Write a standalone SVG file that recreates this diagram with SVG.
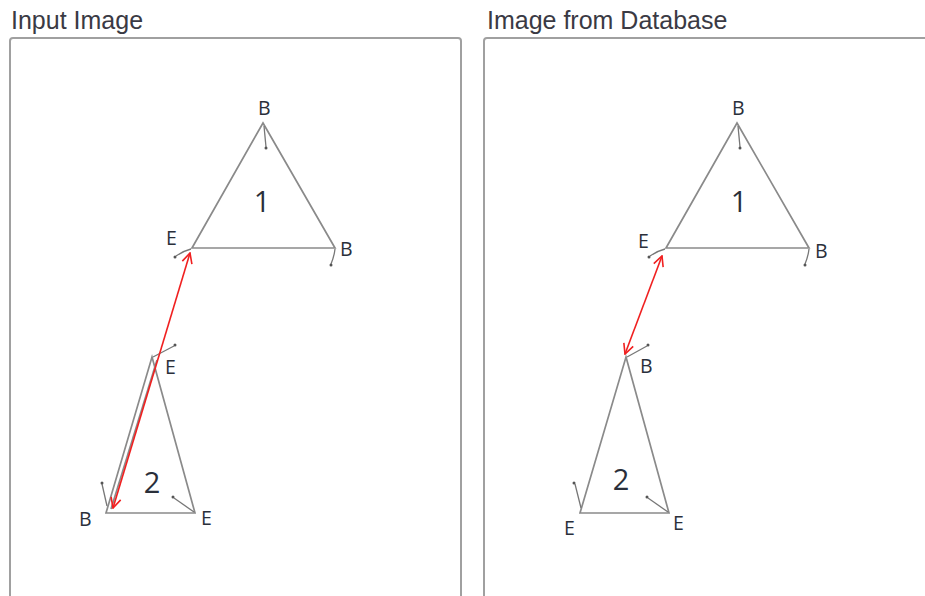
<svg xmlns="http://www.w3.org/2000/svg" width="925" height="596" viewBox="0 0 925 596">
<defs>
<style>
.title{font-family:"Liberation Sans",Arial,sans-serif;font-size:25px;fill:#3a3a44}
.lbl{font-family:"Open Sans","Liberation Sans",sans-serif;font-size:19.5px;fill:#2a2f3a}
.num{font-family:"Open Sans","Liberation Sans",sans-serif;font-size:29px;fill:#2a2f3a;text-anchor:middle}
.panel{fill:#fff;stroke:#a0a0a0;stroke-width:2}
.edge{fill:none;stroke:#8a8a8a;stroke-width:1.7}
.tick{fill:none;stroke:#777;stroke-width:1.3}
.dot{fill:#555}
.red{fill:none;stroke:#f02020;stroke-width:1.6}
</style>
<marker id="ah" viewBox="0 0 12 12" refX="11" refY="6" markerWidth="12" markerHeight="12" markerUnits="userSpaceOnUse" orient="auto-start-reverse">
<path d="M1,1 L11,6 L1,11" fill="none" stroke="#f02020" stroke-width="1.6"/>
</marker>
</defs>
<rect width="925" height="596" fill="#fff"/>
<text class="title" x="11" y="29">Input Image</text>
<text class="title" x="487" y="29">Image from Database</text>
<rect class="panel" x="10" y="38" width="451" height="580" rx="3"/>
<rect class="panel" x="484" y="38" width="460" height="580" rx="3"/>

<g id="left-tri1">
<path class="edge" d="M263,123 L335,248 L192,248 Z"/>
<path class="tick" d="M264,126 L266,147"/><circle class="dot" cx="266" cy="148" r="1.5"/>
<path class="tick" d="M335,249 Q334,257 331,264"/><circle class="dot" cx="331" cy="265" r="1.5"/>
<path class="tick" d="M191,249 Q183,251 176,256"/><circle class="dot" cx="175" cy="257" r="1.5"/>
<text class="lbl" x="258" y="115">B</text>
<text class="lbl" x="166" y="245">E</text>
<text class="lbl" x="340" y="256">B</text>
<text class="num" x="262" y="212">1</text>
</g>

<g id="left-tri2">
<path class="edge" d="M152,357 L195,513 L106,513 Z"/>
<path class="edge" d="M157,360 L111,509"/>
<path class="tick" d="M153,357 L174,346"/><circle class="dot" cx="175" cy="345" r="1.5"/>
<path class="tick" d="M107,506 L102,484"/><circle class="dot" cx="102" cy="483" r="1.5"/>
<path class="tick" d="M194,512 L174,498"/><circle class="dot" cx="173" cy="497" r="1.5"/>
<text class="lbl" x="165" y="374">E</text>
<text class="num" x="152" y="493">2</text>
<text class="lbl" x="79" y="526">B</text>
<text class="lbl" x="201" y="525">E</text>
</g>

<g id="right-tri1">
<path class="edge" d="M737,123 L809,248 L666,248 Z"/>
<path class="tick" d="M738,126 L740,147"/><circle class="dot" cx="740" cy="148" r="1.5"/>
<path class="tick" d="M809,249 Q808,257 805,264"/><circle class="dot" cx="805" cy="265" r="1.5"/>
<path class="tick" d="M665,249 Q657,251 650,256"/><circle class="dot" cx="649" cy="257" r="1.5"/>
<text class="lbl" x="732" y="115">B</text>
<text class="lbl" x="638" y="248">E</text>
<text class="lbl" x="815" y="258">B</text>
<text class="num" x="739" y="212">1</text>
</g>

<g id="right-tri2">
<path class="edge" d="M626,357 L669,513 L580,513 Z"/>
<path class="tick" d="M627,357 L647,346"/><circle class="dot" cx="648" cy="345" r="1.5"/>
<path class="tick" d="M581,508 L575,484"/><circle class="dot" cx="574" cy="483" r="1.5"/>
<path class="tick" d="M668,512 L648,498"/><circle class="dot" cx="647" cy="497" r="1.5"/>
<text class="lbl" x="640" y="373">B</text>
<text class="num" x="621" y="490">2</text>
<text class="lbl" x="564" y="535">E</text>
<text class="lbl" x="673" y="530">E</text>
</g>

<g id="connectors">
<line class="red" x1="190" y1="253" x2="113" y2="508" marker-start="url(#ah)" marker-end="url(#ah)"/>
<line class="red" x1="662" y1="256" x2="625" y2="354" marker-start="url(#ah)" marker-end="url(#ah)"/>
</g>
</svg>
